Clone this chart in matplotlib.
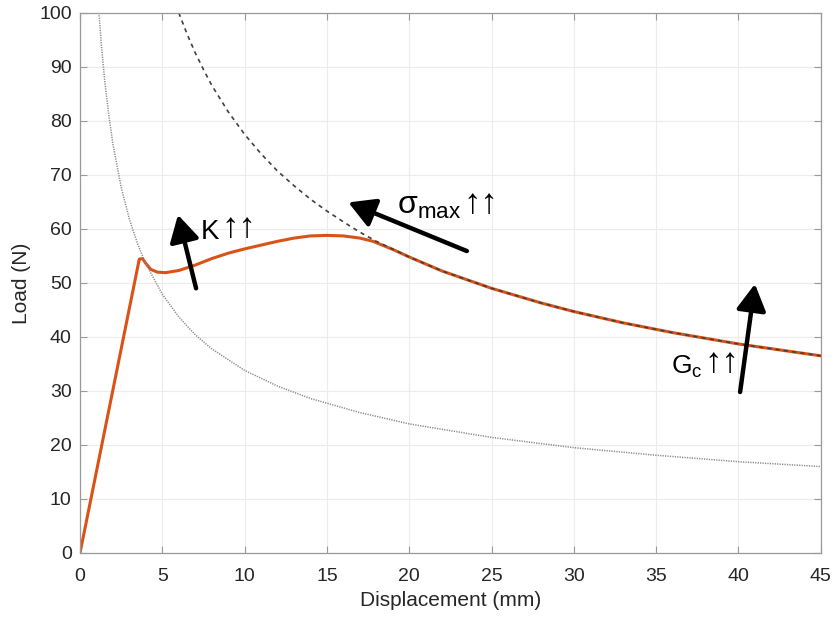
import matplotlib
matplotlib.use("Agg")
import matplotlib.pyplot as plt

plt.rcParams['font.family'] = ['Liberation Sans', 'DejaVu Sans']
plt.rcParams['mathtext.fontset'] = 'custom'
plt.rcParams['mathtext.rm'] = 'Liberation Sans'

# measured load-displacement response
disp = [0, 3.6, 3.8, 4.0, 4.3, 4.7, 5.2, 6, 7, 8, 9, 10, 11, 12, 13, 14, 15,
        16, 17, 17.8, 19, 20, 22, 25, 28, 30, 33, 36, 40, 45]
load = [0, 54.4, 54.5, 53.6, 52.5, 52.0, 51.9, 52.3, 53.3, 54.5, 55.5, 56.3,
        57.0, 57.7, 58.3, 58.7, 58.8, 58.7, 58.3, 57.7, 56.2, 54.8, 52.2, 49.0,
        46.3, 44.7, 42.6, 40.8, 38.7, 36.5]

# strength envelope (sigma_max)
sig_x = [6, 6.5, 7, 7.5, 8, 9, 10, 11, 12, 13, 14, 15, 16, 17, 18, 20, 22,
         25, 28, 30, 33, 36, 40, 45]
sig_y = [100, 96.1, 92.6, 89.5, 86.6, 81.7, 77.5, 73.9, 70.7, 68.0, 65.5,
         63.3, 61.3, 59.4, 57.7, 54.8, 52.2, 49.0, 46.3, 44.7, 42.6, 40.8,
         38.7, 36.5]

# toughness envelope (Gc)
gc_x = [1.15, 1.3, 1.5, 1.75, 2, 2.5, 3, 3.5, 4, 5, 6, 7, 8, 10, 12, 14, 17,
        20, 25, 30, 35, 40, 45]
gc_y = [100, 94.0, 87.4, 81.0, 75.7, 67.7, 61.8, 57.2, 53.5, 47.9, 43.7,
        40.4, 37.8, 33.8, 30.9, 28.6, 26.0, 23.9, 21.4, 19.5, 18.1, 16.9, 16.0]

fig = plt.figure(figsize=(8.37, 6.18), dpi=100)
ax = fig.add_axes([0.0956, 0.1052, 0.885, 0.874])

ax.plot(gc_x, gc_y, color='#8a8a8a', lw=1.1, linestyle=(0, (0.8, 0.8)))
ax.plot(sig_x, sig_y, color='#404040', lw=1.2, linestyle=(0, (2.5, 2.5)))
ax.plot(disp, load, color='#D95319', lw=2.2, zorder=1.5)

ax.set_xlim(0, 45)
ax.set_ylim(0, 100)
ax.set_xticks(range(0, 46, 5))
ax.set_yticks(range(0, 101, 10))
ax.grid(True, color='#ececec', lw=0.8)
ax.set_axisbelow(True)
ax.tick_params(direction='in', length=5, width=0.8, color='#999999',
               labelsize=14, labelcolor='#262626', top=True, right=True)
ax.tick_params(axis='x', pad=11)
ax.tick_params(axis='y', pad=6)
for s in ax.spines.values():
    s.set_color('#999999')
    s.set_linewidth(0.9)
ax.set_xlabel('Displacement (mm)', fontsize=15, color='#262626', labelpad=4)
ax.set_ylabel('Load (N)', fontsize=15, color='#262626', labelpad=6)

arrow = dict(arrowstyle='-|>,head_width=0.45,head_length=0.8', lw=3.2,
             color='black', mutation_scale=20, shrinkA=0, shrinkB=0)
ax.annotate('', xy=(5.95, 62.6), xytext=(7.05, 49.0), arrowprops=arrow)
ax.annotate('', xy=(16.3, 64.9), xytext=(23.5, 55.9), arrowprops=arrow)
ax.annotate('', xy=(41.0, 49.8), xytext=(40.1, 29.8), arrowprops=arrow)

# (x, baseline y, label, size)
labels = [(7.35, 58.1, 'K', 20),
          (19.25, 62.9, 'σ$_\\mathregular{max}$', 23),
          (35.9, 33.3, 'G$_\\mathregular{c}$', 19)]
for x, y, s, size in labels:
    t = ax.text(x, y, s, fontsize=size, va='baseline', ha='left')
    ax.annotate('↑↑', xy=(1, 0), xycoords=t, xytext=(2, 1),
                textcoords='offset pixels', fontsize=25, fontweight='bold',
                family='Liberation Sans', va='bottom', ha='left')

fig.savefig('out.png', dpi=100)
